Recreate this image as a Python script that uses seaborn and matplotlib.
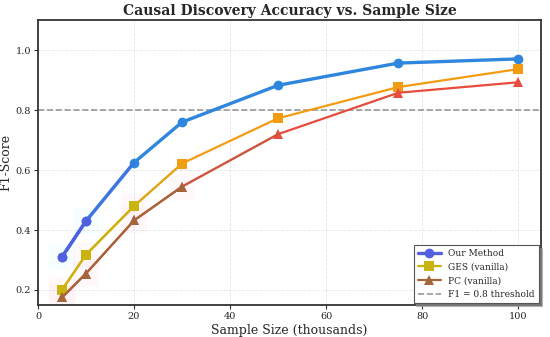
import pandas as pd
import matplotlib
matplotlib.use("Agg")
import matplotlib.pyplot as plt
import seaborn as sns

# dane
sample_size = [5, 10, 20, 30, 50, 75, 100]
our_method = [0.31, 0.43, 0.625, 0.76, 0.883, 0.957, 0.971]
ges_vanilla = [0.20, 0.318, 0.48, 0.622, 0.773, 0.877, 0.937]
pc_vanilla = [0.175, 0.255, 0.432, 0.545, 0.72, 0.858, 0.893]
threshold = 0.8

sns.set_theme(style="whitegrid")
plt.rcParams['font.family'] = ['DejaVu Serif']

df = pd.DataFrame({'x': sample_size, 'our': our_method, 'ges': ges_vanilla, 'pc': pc_vanilla})

fig, ax = plt.subplots(figsize=(5.5, 3.37), dpi=100)

# (kolumna, etykieta, kolor glowny, kolor "przyciemniony", marker, grubosc, rozmiar markera, ile punktow przyciemnionych, poswiata)
series = [
    ('our', 'Our Method', '#2e86de', '#5260e0', 'o', 2.4, 7, 2, '#00e8ff'),
    ('ges', 'GES (vanilla)', '#f39c12', '#c9b30c', 's', 1.6, 6.5, 3, '#ff5fa8'),
    ('pc', 'PC (vanilla)', '#e74c3c', '#a5653a', '^', 1.6, 6.5, 4, '#ff5fa8'),
]

for col, label, c_main, c_tint, m, lw, ms, n_tint, glow in series:
    # delikatna poswiata przy niskich wartosciach
    sns.scatterplot(data=df.iloc[:n_tint], x='x', y=col, ax=ax, s=350, marker='s',
                    color=glow, alpha=0.035, linewidth=0, legend=False, zorder=1)
    sns.lineplot(data=df, x='x', y=col, ax=ax, color=c_main, marker=m, markersize=ms,
                 linewidth=lw, markeredgewidth=0, legend=False, zorder=3)
    # przejscie kolorow
    sns.lineplot(data=df.iloc[n_tint - 1:n_tint + 1], x='x', y=col, ax=ax, color=c_tint,
                 linewidth=lw, alpha=0.4, legend=False, zorder=4)
    sns.lineplot(data=df.iloc[:n_tint], x='x', y=col, ax=ax, color=c_tint, marker=m,
                 markersize=ms, linewidth=lw, markeredgewidth=0, label=label, zorder=5)

ax.axhline(threshold, color='gray', linestyle='--', linewidth=1.2, alpha=0.8,
           label='F1 = 0.8 threshold', zorder=2)

ax.set_xlim(0.25, 104.75)
ax.set_ylim(0.15, 1.1)
ax.set_xticks([0, 20, 40, 60, 80, 100])
ax.set_yticks([0.2, 0.4, 0.6, 0.8, 1.0])
ax.grid(True, linestyle='--', linewidth=0.6, alpha=0.5, color='#cccccc')

ax.set_title('Causal Discovery Accuracy vs. Sample Size', fontsize=10, fontweight='bold', pad=4)
ax.set_xlabel('Sample Size (thousands)', fontsize=9, labelpad=2)
ax.set_ylabel('F1-Score', fontsize=9, labelpad=2)
ax.tick_params(axis='both', labelsize=7, length=3, width=0.8, color='#333333',
               direction='out', bottom=True, left=True, pad=2)

for s in ax.spines.values():
    s.set_color('#333333')
    s.set_linewidth(1.3)

leg = ax.legend(loc='lower right', fontsize=6.5, frameon=True,
                shadow={'color': '#999999', 'alpha': 0.6}, fancybox=False,
                edgecolor='#555555', framealpha=1, borderpad=0.45, labelspacing=0.5,
                handlelength=2.6, borderaxespad=0.25)
leg.get_frame().set_linewidth(0.8)

fig.subplots_adjust(left=0.069, right=0.984, top=0.94, bottom=0.095)
plt.savefig('out.png', dpi=100)
